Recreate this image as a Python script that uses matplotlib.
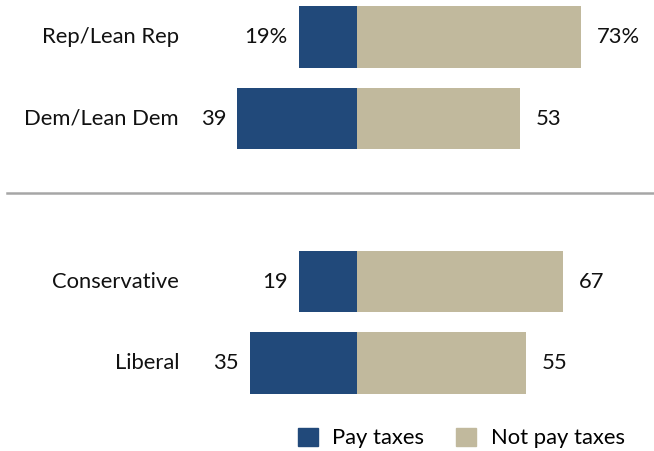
import matplotlib.pyplot as plt
from matplotlib.patches import Patch

# donnees
groups = ['Rep/Lean Rep', 'Dem/Lean Dem', 'Conservative', 'Liberal']
pay_taxes = [19, 39, 19, 35]
not_pay_taxes = [73, 53, 67, 55]
pay_labels = ['19%', '39', '19', '35']
not_pay_labels = ['73%', '53', '67', '55']
y_pos = [0, 1, 3, 4]

blue = '#21497A'
tan = '#C1B99D'

plt.rcParams['font.family'] = ['Lato', 'DejaVu Sans']
fs = 15.8

fig = plt.figure(figsize=(6.54, 4.51), dpi=100)
ax = fig.add_axes([0, 0, 1, 1])

px = 3.07      # pixels par point de pourcentage
center = 357   # position du zero en pixels
row = 81.5     # ecart entre barres en pixels

ax.set_xlim(-center / px, (654 - center) / px)
ax.set_ylim((451 - 37) / row, -37 / row)

b1 = ax.barh(y_pos, [-v for v in pay_taxes], height=0.76, color=blue)
b2 = ax.barh(y_pos, not_pay_taxes, height=0.76, color=tan)

ax.bar_label(b1, labels=pay_labels, padding=8, fontsize=fs, color='#111111')
ax.bar_label(b2, labels=not_pay_labels, padding=11.5, fontsize=fs, color='#111111')

# noms des groupes
for y, g in zip(y_pos, groups):
    ax.text((179 - center) / px, y, g, ha='right', va='center',
            fontsize=fs, color='#111111')

# ligne de separation
ax.axhline((193 - 37) / row, xmin=7 / 654, xmax=1, color='#A6A6A6', linewidth=1.8)

handles = [Patch(color=blue), Patch(color=tan)]
fig.legend(handles, ['Pay taxes', 'Not pay taxes'], loc='center left',
           bbox_to_anchor=(298 / 654, 1 - 438 / 451), ncol=2, frameon=False,
           fontsize=fs, handlelength=0.92, handleheight=0.92,
           handletextpad=0.65, columnspacing=1.45, borderpad=0, borderaxespad=0)

ax.axis('off')

plt.savefig('out.png', dpi=100)
